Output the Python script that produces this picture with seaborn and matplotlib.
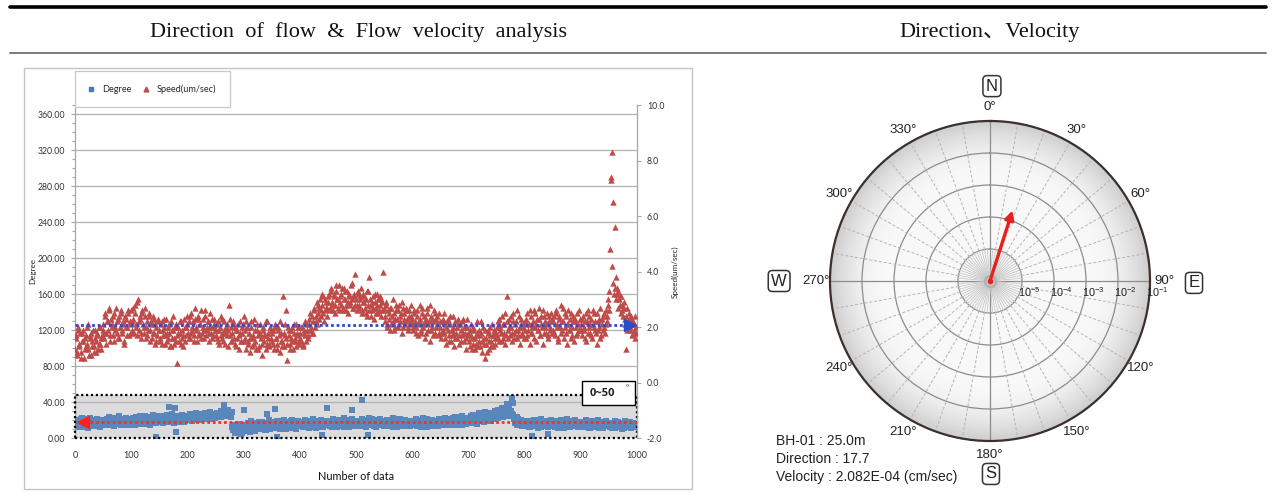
import numpy as np
import matplotlib
matplotlib.use("Agg")
import matplotlib.pyplot as plt
import seaborn as sns
from matplotlib.patches import Rectangle
from matplotlib.lines import Line2D
from matplotlib.ticker import MultipleLocator

# ---------------- data ----------------
# flow direction (degree) for even data numbers 0,2,...,998
degree_even = [
    16,19,13,18,15,21,14,17,12,20,16,18,14,22,15,17,13,19,16,15,18,14,20,17,15,
    18,15,20,16,19,14,21,17,16,19,15,22,18,16,20,17,14,19,18,21,16,18,15,20,17,
    19,17,21,18,20,16,22,19,17,21,18,23,16,20,19,22,17,21,18,20,24,17,1,19,21,
    20,22,18,21,19,23,20,24,18,34,21,19,22,20,33,7,23,21,19,22,20,24,18,22,21,
    22,25,21,24,23,26,22,20,25,23,27,22,24,21,26,23,25,22,27,24,21,26,23,25,24,
    26,24,28,25,27,23,29,26,37,30,27,25,28,24,26,12,9,14,7,11,16,8,13,10,6,
    31,10,14,8,16,12,7,15,11,13,9,17,14,10,16,12,18,11,14,9,15,27,13,11,16,
    15,12,18,32,13,1,16,11,19,14,12,17,15,10,18,13,16,11,20,14,12,17,15,19,13,
    16,13,18,14,17,12,19,15,11,18,16,14,20,13,17,15,12,19,16,14,3,18,15,17,33,
    14,17,15,19,12,18,16,13,20,15,17,14,19,16,12,18,15,20,14,17,16,31,13,18,15,
    17,14,19,15,18,42,16,13,20,17,15,3,18,14,21,16,13,19,17,15,20,14,18,16,19,
    15,18,13,17,20,14,16,19,12,17,15,21,14,18,16,13,19,15,17,20,14,16,18,13,17,
    16,19,14,17,13,20,15,18,12,16,19,14,17,21,15,13,18,16,20,14,17,15,19,13,16,
    18,15,20,16,14,19,17,21,15,18,16,22,14,19,17,20,16,18,23,15,19,17,21,16,20,
    19,22,17,21,24,18,20,23,16,22,25,19,21,24,18,23,26,20,22,25,19,24,27,21,23,
    25,22,28,24,30,26,23,29,27,31,25,28,24,30,44,26,21,18,23,16,19,14,18,15,17,
    16,13,18,14,17,12,19,2,15,18,13,16,20,14,17,12,18,15,19,13,16,5,17,14,18,
    15,18,12,17,14,19,16,13,18,15,11,17,14,20,16,12,18,15,13,17,19,14,16,12,18,
    14,17,12,16,13,18,15,11,17,14,16,12,19,13,15,17,11,16,14,18,12,15,13,17,14,
    15,12,17,13,16,11,18,14,12,16,13,17,15,11,14,18,12,16,13,15,11,17,14,12,15,
]
# flow direction (degree) for odd data numbers 1,3,...,999
degree_odd = [
    14,20,17,12,19,15,22,13,18,16,21,11,17,19,14,20,16,13,18,21,15,17,12,19,16,
    20,16,14,21,18,23,15,19,17,13,22,16,20,18,24,15,19,21,14,17,22,16,19,15,21,
    17,22,20,15,23,18,21,24,16,19,22,17,25,20,18,23,15,21,19,26,18,22,17,24,20,
    22,19,25,17,23,20,26,18,22,24,19,27,21,17,24,20,25,18,23,21,26,19,24,20,23,
    24,21,27,23,19,26,24,28,22,25,20,27,23,26,21,28,24,22,26,23,29,21,25,27,22,
    25,28,23,27,30,24,28,33,26,29,25,31,27,23,29,10,14,6,12,15,9,13,5,11,15,
    12,15,9,17,11,14,19,10,13,16,8,15,12,18,10,14,11,17,13,9,16,12,20,10,14,
    13,17,11,15,19,12,14,10,17,15,20,12,16,13,18,11,15,19,12,16,14,10,18,13,16,
    14,18,12,16,20,15,13,17,19,12,15,21,14,17,11,18,15,13,20,16,12,17,19,14,16,
    17,13,19,15,21,14,18,16,12,20,15,18,13,17,22,14,19,16,12,18,15,21,17,14,19,
    15,19,13,18,16,21,14,17,12,19,16,22,14,18,15,20,17,12,19,16,14,21,15,18,13,
    18,14,20,16,13,19,15,22,17,14,19,12,18,16,21,15,17,13,20,16,18,14,19,15,17,
    14,18,16,21,15,17,13,19,16,22,14,18,15,12,19,17,14,20,15,18,13,19,16,21,15,
    16,20,18,14,22,17,19,15,21,17,14,20,18,23,16,19,15,21,17,24,18,16,20,18,22,
    21,18,24,20,26,22,19,25,21,28,20,23,26,22,29,21,24,27,23,20,28,25,22,30,24,
    27,31,24,29,33,26,30,25,32,38,28,33,30,27,39,23,17,20,15,21,17,20,13,16,19,
    14,18,16,12,19,15,13,17,20,14,16,11,18,15,21,13,17,14,19,16,12,18,15,20,13,
    17,13,19,15,11,18,14,20,16,13,18,15,21,12,17,15,19,13,16,20,14,17,12,18,15,
    16,12,18,14,20,15,13,17,11,19,14,16,12,18,15,20,13,17,14,11,18,15,19,13,16,
    13,17,11,16,14,19,12,15,18,13,16,10,17,14,19,12,16,13,18,11,15,17,12,16,13,
]
# flow speed (um/sec) for even data numbers
speed_even = [
    1.2,1.7,1.0,1.9,1.4,1.1,1.8,1.5,0.9,1.6,1.3,2.0,1.2,1.7,1.0,1.5,1.9,1.3,1.6,1.1,1.8,1.4,2.0,1.2,1.7,
    2.1,1.6,2.4,1.8,2.2,2.7,1.5,2.3,2.0,1.7,2.5,1.9,2.2,1.6,2.4,2.0,2.6,1.8,2.1,1.5,2.3,2.0,2.5,1.7,2.2,
    2.6,1.9,2.3,2.8,2.1,1.7,3.0,2.2,2.4,1.8,2.5,2.0,2.7,1.6,2.2,1.9,2.4,1.5,2.1,1.8,2.3,1.4,2.0,1.7,2.2,
    1.9,1.5,2.2,1.7,2.0,1.4,2.3,1.8,1.6,2.1,1.3,1.9,2.4,1.6,2.0,1.5,0.7,1.8,2.2,1.4,1.9,1.7,2.3,1.5,2.0,
    2.1,1.6,2.4,1.8,2.0,2.2,1.5,2.7,1.9,2.3,1.7,2.1,2.6,1.8,2.0,1.6,2.4,1.9,2.2,1.5,2.0,1.8,2.3,1.7,2.1,
    1.9,1.6,2.2,1.4,2.0,1.7,2.3,1.5,1.9,1.8,2.1,1.3,2.8,1.7,2.0,1.5,2.2,1.4,1.9,1.6,2.1,1.2,1.8,1.5,2.0,
    2.4,1.6,1.2,2.0,1.5,1.8,1.1,2.2,1.6,1.4,1.9,1.2,2.1,1.7,1.3,1.8,1.0,2.0,1.5,1.7,1.2,2.2,1.6,1.4,1.9,
    1.5,1.9,1.2,2.1,1.6,1.4,2.0,1.1,1.8,1.5,3.1,1.3,1.7,2.6,0.8,1.9,1.4,1.6,2.0,1.2,1.8,1.5,2.1,1.7,1.4,
    1.8,1.5,2.0,1.3,1.9,1.7,2.1,1.6,2.3,1.9,2.0,2.4,1.8,2.6,2.2,2.9,2.5,2.7,3.0,2.4,2.8,3.1,2.6,2.9,2.7,
    2.9,3.2,2.6,3.4,2.8,3.1,2.5,3.3,3.0,2.7,3.5,2.9,3.2,2.6,3.4,3.0,2.8,3.3,2.5,3.1,2.9,3.6,2.7,3.2,3.9,
    3.0,2.6,3.3,2.8,3.1,2.5,3.2,2.9,2.7,3.0,2.4,3.3,3.8,2.8,2.6,3.1,2.3,2.9,2.7,3.2,2.5,2.8,3.0,2.6,4.0,
    2.6,2.2,2.9,2.0,2.5,2.7,2.1,2.4,3.0,1.9,2.3,2.6,2.0,2.8,2.2,2.5,1.8,2.7,2.3,2.1,2.6,1.9,2.4,2.2,2.8,
    2.3,1.9,2.6,2.0,2.4,1.7,2.2,2.8,1.8,2.5,2.1,1.6,2.3,2.7,1.9,2.2,1.5,2.4,2.0,2.6,1.8,2.3,2.1,1.7,2.5,
    2.0,1.6,2.3,1.8,2.1,1.4,2.2,1.9,1.5,2.4,1.7,2.0,1.3,2.2,1.8,1.6,2.1,1.4,1.9,1.7,2.3,1.5,1.8,1.2,2.0,
    1.8,1.3,2.1,1.6,1.4,1.9,1.2,1.7,2.2,1.5,1.3,1.8,1.1,2.0,1.6,0.9,1.4,1.9,1.2,1.7,1.5,2.1,1.3,1.8,1.6,
    1.7,2.2,1.5,2.0,1.8,2.4,1.6,2.1,1.4,3.1,1.9,2.3,1.7,2.0,1.5,2.5,1.8,2.2,1.6,1.9,2.4,1.4,2.1,1.7,2.0,
    2.2,1.6,2.5,1.9,2.1,1.4,2.4,1.8,2.6,2.0,1.5,2.3,1.9,2.7,1.7,2.1,1.4,2.4,2.0,1.8,2.5,1.6,2.2,1.9,2.3,
    1.9,2.4,1.7,2.6,2.0,1.5,2.3,1.8,2.2,2.7,1.6,2.0,2.4,1.4,2.1,1.9,2.5,1.7,2.2,1.5,2.3,2.0,1.8,2.6,1.9,
    2.1,1.7,2.4,1.9,2.2,1.5,2.6,2.0,1.8,2.3,1.6,2.1,2.5,1.9,1.4,2.2,2.0,2.7,1.7,2.3,1.9,2.5,2.1,2.4,2.8,
    2.6,4.8,7.4,8.3,6.5,5.6,3.8,3.4,3.3,3.0,2.8,3.1,2.6,2.9,2.3,1.2,2.7,2.2,2.5,1.9,2.3,1.8,2.1,1.6,2.0,
]
# flow speed (um/sec) for odd data numbers
speed_odd = [
    1.6,1.1,2.0,1.3,1.8,0.9,1.5,1.9,1.2,1.7,1.4,2.1,1.0,1.6,1.8,1.3,1.1,1.9,1.5,1.7,1.2,2.0,1.4,1.6,1.9,
    1.8,2.5,1.4,2.2,1.9,2.6,1.7,2.1,2.4,1.5,2.0,2.7,1.8,2.3,1.6,2.5,1.9,2.2,1.4,2.4,2.0,1.7,2.6,2.1,1.8,
    2.2,2.7,1.8,2.5,2.0,2.9,1.9,2.3,1.6,2.6,2.1,1.8,2.4,2.0,1.7,2.5,1.9,2.2,1.6,2.4,1.8,2.1,1.5,2.3,1.9,
    1.6,2.1,1.4,1.9,2.3,1.7,1.5,2.0,1.8,1.3,2.2,1.6,1.9,1.4,2.1,1.7,2.0,1.5,1.8,2.2,1.6,1.3,2.0,1.7,2.4,
    1.8,2.2,1.6,2.5,1.9,1.7,2.3,2.0,1.5,2.4,1.8,2.1,1.6,2.3,1.9,2.6,1.7,2.0,2.2,1.8,2.5,1.6,2.0,2.3,1.9,
    1.7,2.1,1.5,1.9,2.4,1.6,1.8,2.2,1.4,2.0,1.7,1.9,2.3,1.5,1.8,2.1,1.6,2.0,1.3,1.9,1.7,2.2,1.5,1.8,2.1,
    1.5,1.9,2.2,1.4,1.8,1.6,2.0,1.3,1.7,2.3,1.5,1.9,1.2,1.8,2.1,1.6,1.4,1.9,1.7,2.2,1.4,1.8,1.3,2.0,1.6,
    1.8,1.4,2.0,1.6,1.2,1.9,1.7,2.2,1.5,1.3,1.8,2.1,1.6,1.4,2.0,1.7,1.2,1.9,1.5,2.1,1.6,1.3,1.8,2.0,1.5,
    1.6,2.0,1.4,1.8,2.2,1.5,1.9,1.7,2.1,2.5,1.8,2.2,2.7,2.0,2.4,2.1,2.8,2.3,2.6,3.2,2.5,2.2,3.0,2.7,2.4,
    3.1,2.7,3.3,2.9,2.6,3.2,2.8,3.5,3.0,2.6,3.1,2.8,3.4,2.7,3.0,3.3,2.6,2.9,3.2,2.8,3.5,3.0,2.7,3.1,2.8,
    2.8,3.2,2.7,3.0,3.4,2.6,2.9,3.1,2.5,3.3,2.8,2.6,3.0,2.4,2.9,2.7,3.2,2.5,2.8,3.0,2.6,3.1,2.4,2.9,2.7,
    2.4,2.8,2.1,2.6,2.3,1.9,2.7,2.2,2.5,2.0,2.8,2.3,2.6,2.1,2.4,2.9,2.0,2.5,2.2,2.7,2.3,2.0,2.6,2.4,2.1,
    2.0,2.5,2.2,1.8,2.6,2.1,2.3,1.9,2.7,2.0,2.4,2.2,1.8,2.5,2.1,2.8,1.9,2.3,1.7,2.2,2.5,2.0,2.4,1.8,2.2,
    1.8,2.2,1.9,2.5,1.6,2.0,2.3,1.7,2.1,1.5,1.9,2.4,1.8,1.6,2.0,2.3,1.7,2.1,1.5,2.2,1.8,2.0,1.6,2.3,1.7,
    1.5,1.9,1.7,1.2,2.0,1.6,1.4,1.8,1.3,1.9,1.7,2.2,1.5,1.4,1.9,1.6,1.1,1.8,1.5,2.0,1.3,1.7,1.9,1.4,1.8,
    2.0,1.6,2.3,1.9,1.5,2.1,1.8,2.5,1.7,2.2,1.6,2.0,2.4,1.8,2.2,1.6,2.1,1.9,2.6,1.7,2.0,2.3,1.8,2.1,1.6,
    1.9,2.3,1.7,2.1,2.6,1.8,2.0,2.2,1.6,2.5,2.1,1.9,2.3,1.7,2.4,2.0,2.6,1.8,2.2,2.1,1.7,2.4,2.0,2.5,1.8,
    2.2,1.8,2.5,2.1,1.6,2.4,2.0,2.8,1.9,2.2,2.5,1.8,2.1,2.6,1.9,2.3,1.6,2.0,2.4,2.2,1.7,2.5,2.1,1.9,2.3,
    1.9,2.3,2.0,1.6,2.5,2.2,1.8,2.4,2.1,1.7,2.6,2.0,2.2,1.8,2.5,1.9,2.3,1.6,2.1,2.4,2.0,1.8,2.6,2.2,3.0,
    3.3,7.3,4.2,3.6,3.2,3.4,3.0,3.2,2.7,3.1,2.5,2.8,2.4,2.7,2.1,2.4,1.9,2.3,2.0,2.4,1.7,2.2,1.9,2.4,1.8,
]
mean_direction = 17.7          # degree
mean_speed_um = 2.082          # um/sec
velocity_cm = 2.082e-4         # cm/sec
site_label = "BH-01 : 25.0m"
band_range = (0, 48)
band_label = "0~50"

deg_ticks = list(range(0, 361, 40))
speed_ticks = [-2.0, 0.0, 2.0, 4.0, 6.0, 8.0, 10.0]
x_ticks = list(range(0, 1001, 100))
theta_label_angles = list(range(0, 360, 30))
ring_values = [1e-5, 1e-4, 1e-3, 1e-2, 1e-1]
ring_labels = [r"10$^{-5}$", r"10$^{-4}$", r"10$^{-3}$", r"10$^{-2}$", r"10$^{-1}$"]
compass = [("N", 0.506, 1.109), ("E", 1.1375, 0.494), ("S", 0.503, -0.103), ("W", -0.159, 0.5)]

# interleave the readings by data number
n_data = len(degree_even) + len(degree_odd)
degree = np.empty(n_data)
degree[0::2] = degree_even
degree[1::2] = degree_odd
speed = np.empty(n_data)
speed[0::2] = speed_even
speed[1::2] = speed_odd
x_idx = np.arange(n_data)

# ---------------- style ----------------
sns.set_theme(style="white")
plt.rcParams["font.family"] = ["Lato", "DejaVu Sans"]
plt.rcParams["mathtext.default"] = "regular"

W, H = 1276, 503
fig = plt.figure(figsize=(W / 100, H / 100), dpi=100)
fig.patch.set_facecolor("white")


def fx(px):
    return px / W


def fy(py):
    return 1 - py / H


# header rules and titles
fig.add_artist(Line2D([fx(10), fx(1266)], [fy(7), fy(7)], color="black", lw=2.6))
fig.add_artist(Line2D([fx(10), fx(1266)], [fy(53), fy(53)], color="#7a7a7a", lw=1.4))
fig.text(fx(359), fy(32), "Direction  of  flow  &  Flow  velocity  analysis",
         family=["Liberation Serif"], fontsize=16, ha="center", va="center", color="#111")
fig.text(fx(990), fy(32), "Direction\u3001Velocity",
         family=["Liberation Serif", "Noto Sans CJK JP"], fontsize=16,
         ha="center", va="center", color="#111")

# ---------------- left panel ----------------
fig.add_artist(Rectangle((fx(24), fy(489)), fx(692) - fx(24), fy(68) - fy(489),
                         transform=fig.transFigure, fill=False, ec="#c4c4c4", lw=1.0))

ax = fig.add_axes([fx(75), fy(438), fx(637) - fx(75), fy(105) - fy(438)])
ax.set_facecolor("none")
ax2 = ax.twinx()

sns.scatterplot(x=x_idx, y=degree, ax=ax, marker="s", color="#5a86bb", s=24,
                linewidth=0, zorder=3, legend=False)
sns.scatterplot(x=x_idx, y=speed, ax=ax2, marker="^", color="#bf4b48", s=21,
                linewidth=0, zorder=3, legend=False)

ax.set_xlim(0, 1000)
ax.set_ylim(0, 370)
ax2.set_ylim(-2, 10)

# gray band 0~50
ax.add_patch(Rectangle((0, band_range[0]), 1000, band_range[1] - band_range[0],
                       fc="#dcdcdc", ec="none", zorder=0.2))
ax.add_patch(Rectangle((0, band_range[0]), 1000, band_range[1] - band_range[0],
                       fill=False, ec="black", ls=(0, (1, 1.2)), lw=1.6, zorder=4,
                       clip_on=False))

ax.set_axisbelow(True)
ax.yaxis.grid(True, color="#b2b2b2", lw=0.9)
ax.xaxis.grid(False)
ax2.grid(False)

# mean lines
ax.plot([8, 1000], [mean_direction, mean_direction], color="#ff2a2a", ls=(0, (1, 1)),
        lw=2.0, zorder=5)
ax.plot([14], [mean_direction], marker="<", color="#ff2020", ms=9, ls="", zorder=6)
ax2.plot([0, 984], [mean_speed_um, mean_speed_um], color="#2a4cc8", ls=(0, (1, 1)),
         lw=2.0, zorder=5)
ax2.plot([988], [mean_speed_um], marker=">", color="#2a4cc8", ms=8, ls="", zorder=6)

# band label box
ax.add_patch(Rectangle((903, 37), 94, 26, fc="white", ec="black", lw=1.0, zorder=7,
                       clip_on=False))
ax.text(938, 49.5, band_label, fontsize=8, fontweight="bold", ha="center",
        va="center", zorder=8, color="#222", family=["Open Sans", "DejaVu Sans"])
ax.text(983, 56, "\u00b0", fontsize=5.5, ha="center", va="center", zorder=8, color="#333")

# axes, ticks
for s in ["top", "right", "bottom"]:
    ax.spines[s].set_visible(False)
ax.spines["left"].set_color("#a6a6a6")
ax.spines["left"].set_linewidth(0.9)
for s in ["top", "left", "bottom"]:
    ax2.spines[s].set_visible(False)
ax2.spines["right"].set_color("#a6a6a6")
ax2.spines["right"].set_linewidth(0.9)

ax.set_yticks(deg_ticks)
ax.set_yticklabels([f"{v:.2f}" for v in deg_ticks])
ax.yaxis.set_minor_locator(MultipleLocator(10))
ax.tick_params(axis="y", which="major", left=True, direction="out", length=3,
               width=0.8, color="#a6a6a6", labelsize=6.3, pad=4, labelcolor="#333")
ax.tick_params(axis="y", which="minor", left=True, direction="out", length=2,
               width=0.8, color="#a6a6a6")
ax.set_xticks(x_ticks)
ax.set_xticklabels([str(v) for v in x_ticks])
ax.tick_params(axis="x", bottom=False, length=0, labelsize=6.5, pad=9, labelcolor="#333")

ax2.set_yticks(speed_ticks)
ax2.set_yticklabels([f"{v:.1f}" for v in speed_ticks])
ax2.tick_params(axis="y", right=True, direction="out", length=3, width=0.8,
                color="#a6a6a6", labelsize=6.3, pad=4, labelcolor="#333")

ax.set_ylabel("Degree", fontsize=5.8, labelpad=1, color="#222")
ax2.set_ylabel("Speed(um/sec)", fontsize=5.8, labelpad=5, color="#222")
ax.set_xlabel("Number of data", fontsize=7.8, labelpad=8, color="#111")

# legend
handles = [Line2D([], [], marker="s", ls="", color="#4a78b8", ms=3),
           Line2D([], [], marker="^", ls="", color="#C0504D", ms=3.5)]
leg = fig.legend(handles, ["Degree", "Speed(um/sec)"], loc="upper left",
                 bbox_to_anchor=(fx(75), fy(71)), ncol=2, fontsize=6.6, frameon=True,
                 fancybox=False, edgecolor="#c8c8c8", framealpha=1, borderpad=1.45,
                 handlelength=0.5, handletextpad=1.0, columnspacing=1.3,
                 borderaxespad=0)
leg.get_frame().set_linewidth(0.9)

# ---------------- right panel (polar) ----------------
pax = fig.add_axes([fx(830), fy(441), fx(1150) - fx(830), fy(121) - fy(441)],
                   projection="polar")
pax.set_theta_zero_location("N")
pax.set_theta_direction(-1)
pax.set_rscale("log")
pax.set_rlim(1e-6, 1e-1)

# radial shading of the disc
th = np.linspace(0, 2 * np.pi, 181)
rr = np.logspace(-6, -1, 80)
T, R = np.meshgrid(th, rr)
frac = (np.log10(R) + 6) / 5
shade = 0.972 - 0.17 * np.clip((frac - 0.62) / 0.38, 0, 1) ** 2.2
pax.pcolormesh(T, R, shade, cmap="gray", vmin=0, vmax=1, shading="gouraud", zorder=0)

pax.spines["polar"].set_color("#3b302c")
pax.spines["polar"].set_linewidth(1.6)

# rings
pax.set_rgrids(ring_values[:-1], labels=[""] * 4)
pax.yaxis.grid(True, color="#8c8c8c", lw=0.9, ls="-")
pax.xaxis.grid(False)

# spokes
for a in range(0, 360, 10):
    t = np.deg2rad(a)
    if a % 90 == 0:
        pax.plot([t, t], [1e-6, 1e-1], color="#8c8c8c", lw=0.9, zorder=1)
    else:
        pax.plot([t, t], [1e-5, 1e-1], color="#b4b4b4", lw=0.7, ls=(0, (3, 2)), zorder=1)
for a in range(0, 360, 5):
    if a % 90 == 0:
        continue
    t = np.deg2rad(a)
    pax.plot([t, t], [1e-6, 1e-5], color="#c6c6c6", lw=0.6, zorder=1)

pax.plot([0], [1e-6], marker="o", ms=8, mfc="none", mec="#b0b0b0", mew=1.6, zorder=2)

# theta labels
pax.set_xticks(np.deg2rad(theta_label_angles))
pax.set_xticklabels([f"{a}\u00b0" for a in theta_label_angles])
pax.tick_params(axis="x", pad=-3, labelsize=9.5, labelcolor="#222")
for lab in pax.get_xticklabels():
    lab.set_fontfamily("Liberation Sans")

# ring labels along the east axis
for v, lab in zip(ring_values, ring_labels):
    pax.annotate(lab, xy=(np.pi / 2, v), xytext=(5, -8), textcoords="offset points",
                 ha="center", va="center", fontsize=7.8, color="#222",
                 family="Liberation Sans", annotation_clip=False)

# direction / velocity arrow
pax.annotate("", xy=(np.deg2rad(mean_direction), velocity_cm),
             xytext=(np.deg2rad(mean_direction), 1e-6),
             arrowprops=dict(arrowstyle="-|>", color="#e5211d", lw=2.4,
                             mutation_scale=13, shrinkA=0, shrinkB=0), zorder=5)
pax.plot([0], [1e-6], marker="o", ms=3, color="#e5211d", zorder=6)

# compass letters
for letter, xa, ya in compass:
    pax.text(xa, ya, letter, transform=pax.transAxes, ha="center", va="center",
             fontsize=12, family="Liberation Sans", color="#222",
             bbox=dict(boxstyle="round,pad=0.18,rounding_size=0.25", fc="white",
                       ec="#333333", lw=1.1))

# info text
info = [site_label, f"Direction : {mean_direction}",
        f"Velocity : {velocity_cm:.3E} (cm/sec)"]
for i, line in enumerate(info):
    fig.text(fx(776), fy(441 + 18 * i), line, fontsize=10, family="Liberation Sans",
             ha="left", va="center", color="#222")

fig.savefig("out.png", dpi=100, facecolor="white")
